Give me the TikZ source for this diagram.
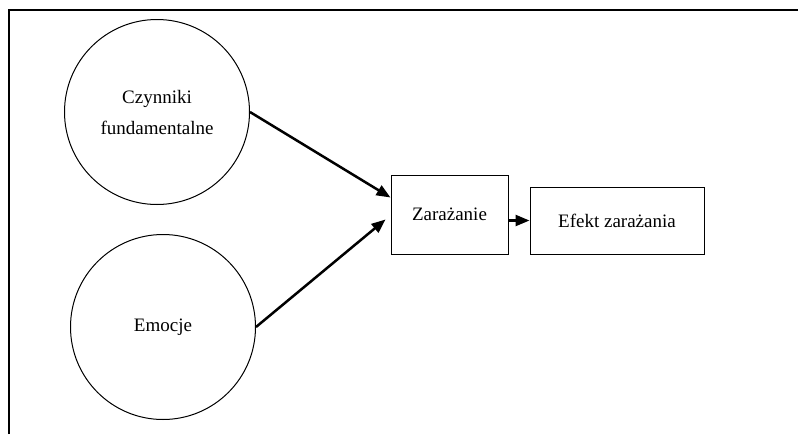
\documentclass[tikz,border=0pt]{standalone}
\usepackage{fontspec}
\setmainfont{Liberation Serif}
\usetikzlibrary{positioning,arrows.meta}
\begin{document}
\begin{tikzpicture}[x=1pt, y=-1pt,
    main/.style = {draw, circle, line width=1pt, minimum size=185pt, align=center, font=\fontsize{19}{31}\selectfont},
    block/.style = {draw, rectangle, line width=1pt, font=\fontsize{19}{23}\selectfont},
    arr/.style = {line width=2.5pt, -{Triangle[length=14pt, width=11pt]}}]

    \useasboundingbox (0,0) rectangle (798,434);
    \draw[line width=1.5pt] (9,434) -- (9,10) -- (798,10);

    \node[main] (1) at (157,112) {Czynniki\\fundamentalne};
    \node[main] (2) at (163,327) {Emocje};
    \node[block, minimum width=117pt, minimum height=79pt] (3) at (449.5,214.5) {Zarażanie};
    \node[block, minimum width=174pt, minimum height=67pt] (4) [right=21pt of 3.south east, anchor=south west] {Efekt zarażania};

    \draw[arr] (1.east) -- ([yshift=17pt]3.west);
    \draw[arr] (2.east) -- ([xshift=-5pt, yshift=-5pt]3.west);
    \draw[arr] (3.east |- 4.west) -- (4.west);

\end{tikzpicture}
\end{document}
